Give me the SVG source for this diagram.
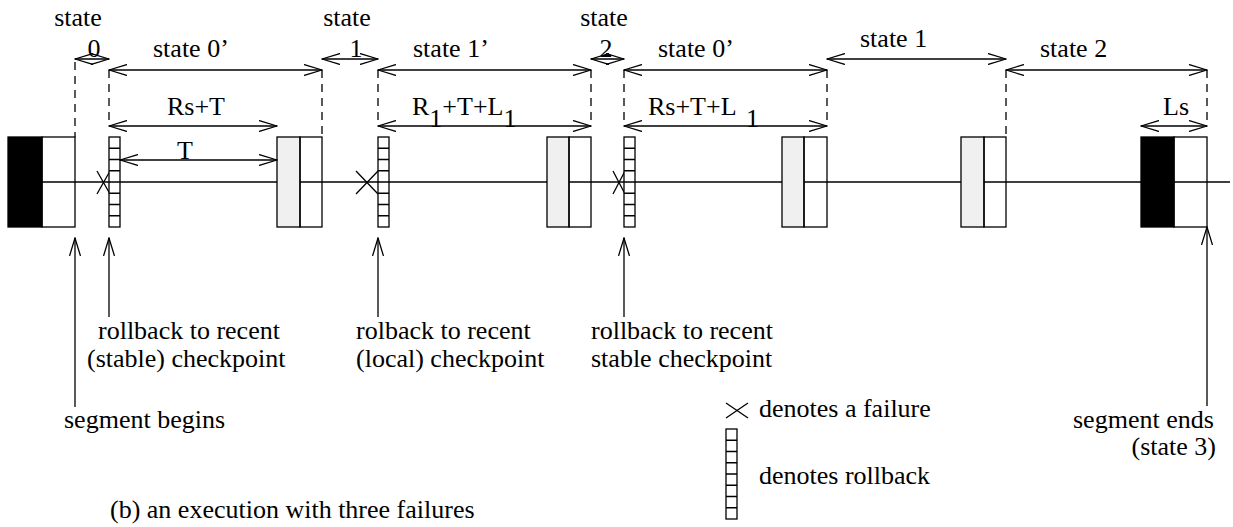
<svg xmlns="http://www.w3.org/2000/svg" xmlns:xlink="http://www.w3.org/1999/xlink" width="1233" height="527" viewBox="0 0 1233 527">
<style>
.ln{stroke:#000;stroke-width:1.3;fill:none}
.ar{stroke:#000;stroke-width:1.3;fill:none;marker-start:url(#ah);marker-end:url(#ah)}
.up{stroke:#000;stroke-width:1.3;fill:none;marker-end:url(#ah)}
.dash{stroke:#000;stroke-width:1.3;stroke-dasharray:8 6;fill:none}
.t{font-family:'Liberation Serif','DejaVu Serif','Times New Roman',serif;font-size:26px;fill:#000}
.wh{fill:none;stroke:#000;stroke-width:1.3}
.rbw{fill:#fff;stroke:#000;stroke-width:1.3}
.gray{fill:#f0f0f0;stroke:#000;stroke-width:1.3}
.blk{fill:#000;stroke:#000;stroke-width:1.3}
</style>
<defs>
<marker id="ah" viewBox="0 0 19 12" refX="18" refY="6" markerWidth="19" markerHeight="12" markerUnits="userSpaceOnUse" orient="auto-start-reverse">
<path d="M0,0.5 L18,6 L0,11.5" fill="none" stroke="#000" stroke-width="1.3"/>
</marker>
<g id="rbsym">
<rect x="0" y="0" width="11" height="90" class="rbw"/>
<path class="ln" d="M0,11.25h11M0,22.5h11M0,33.75h11M0,45h11M0,56.25h11M0,67.5h11M0,78.75h11"/>
</g>
</defs>

<g id="timeline">
<line class="ln" x1="8" y1="182" x2="1230" y2="182"/>
</g>

<g id="segment-start">
<rect class="blk" x="8" y="137" width="34" height="90"/>
<rect class="wh" x="42" y="137" width="33" height="90"/>
</g>

<g id="rollback-1">
<path class="ln" d="M97,171 L110,194 M97,194 L110,171"/>
<use xlink:href="#rbsym" x="109" y="137"/>
</g>

<g id="checkpoint-1">
<rect class="gray" x="277" y="137" width="23" height="90"/>
<rect class="wh" x="300" y="137" width="22" height="90"/>
</g>

<g id="rollback-2">
<path class="ln" d="M356,171 L378,194 M356,194 L378,171"/>
<use xlink:href="#rbsym" x="378" y="137"/>
</g>

<g id="checkpoint-2">
<rect class="gray" x="547" y="137" width="22" height="90"/>
<rect class="wh" x="569" y="137" width="22" height="90"/>
</g>

<g id="rollback-3">
<path class="ln" d="M613,171 L625,194 M613,194 L625,171"/>
<use xlink:href="#rbsym" x="624" y="137"/>
</g>

<g id="checkpoint-3">
<rect class="gray" x="782" y="137" width="22" height="90"/>
<rect class="wh" x="804" y="137" width="23" height="90"/>
</g>

<g id="checkpoint-4">
<rect class="gray" x="961" y="137" width="23" height="90"/>
<rect class="wh" x="984" y="137" width="22" height="90"/>
</g>

<g id="segment-end">
<rect class="blk" x="1141" y="137" width="33" height="90"/>
<rect class="wh" x="1174" y="137" width="33" height="90"/>
</g>

<g id="connectors">
<path class="dash" d="M75,62 V137 M109,70 V126 M322,70 V137 M378,70 V126 M591,70 V126 M624,70 V126 M827,70 V126 M1006,70 V137 M1207,70 V126"/>
<line class="ar" x1="75" y1="59" x2="109" y2="59"/>
<line class="ar" x1="109" y1="70" x2="322" y2="70"/>
<line class="ar" x1="322" y1="59" x2="378" y2="59"/>
<line class="ar" x1="378" y1="70" x2="591" y2="70"/>
<line class="ar" x1="591" y1="59" x2="624" y2="59"/>
<line class="ar" x1="624" y1="70" x2="827" y2="70"/>
<line class="ar" x1="827" y1="59" x2="1006" y2="59"/>
<line class="ar" x1="1006" y1="70" x2="1207" y2="70"/>
<line class="ar" x1="109" y1="126" x2="277" y2="126"/>
<line class="ar" x1="120" y1="160" x2="277" y2="160"/>
<line class="ar" x1="378" y1="126" x2="591" y2="126"/>
<line class="ar" x1="624" y1="126" x2="827" y2="126"/>
<line class="ar" x1="1141" y1="126" x2="1207" y2="126"/>
<line class="up" x1="75" y1="407" x2="75" y2="238"/>
<line class="up" x1="109" y1="317" x2="109" y2="238"/>
<line class="up" x1="378" y1="317" x2="378" y2="238"/>
<line class="up" x1="624" y1="317" x2="624" y2="238"/>
<line class="up" x1="1207" y1="406" x2="1207" y2="227"/>
</g>

<g id="labels" font-family="'Liberation Serif', 'Times New Roman', serif">
<text class="t" x="78" y="26" text-anchor="middle">state</text>
<text class="t" x="94" y="57" text-anchor="middle">0</text>
<text class="t" x="153" y="57">state 0’</text>
<text class="t" x="167" y="115">Rs+T</text>
<text class="t" x="185" y="159" text-anchor="middle">T</text>
<text class="t" x="347" y="26" text-anchor="middle">state</text>
<text class="t" x="356" y="57" text-anchor="middle">1</text>
<text class="t" x="413" y="57">state 1’</text>
<text class="t" x="412" y="115">R<tspan dy="12">1</tspan><tspan dy="-12">+T+L</tspan><tspan dy="12">1</tspan></text>
<text class="t" x="604" y="26" text-anchor="middle">state</text>
<text class="t" x="606" y="57" text-anchor="middle">2</text>
<text class="t" x="658" y="57">state 0’</text>
<text class="t" x="648" y="115">Rs+T+L<tspan x="746" dy="12">1</tspan></text>
<text class="t" x="860" y="47">state 1</text>
<text class="t" x="1040" y="57">state 2</text>
<text class="t" x="1163" y="115">Ls</text>
<text class="t" x="98" y="339">rollback to recent</text>
<text class="t" x="87" y="367">(stable) checkpoint</text>
<text class="t" x="356" y="339">rolback to recent</text>
<text class="t" x="356" y="367">(local) checkpoint</text>
<text class="t" x="591" y="339">rollback to recent</text>
<text class="t" x="591" y="367">stable checkpoint</text>
<text class="t" x="64" y="428">segment begins</text>
<text class="t" x="1073" y="428">segment ends</text>
<text class="t" x="1216" y="455" text-anchor="end">(state 3)</text>
<text class="t" x="110" y="518">(b) an execution with three failures</text>
</g>

<g id="legend">
<path class="ln" d="M726,403 L748,418 M726,418 L748,403"/>
<text class="t" x="759" y="417">denotes a failure</text>
<use xlink:href="#rbsym" x="726" y="429"/>
<text class="t" x="759" y="484">denotes rollback</text>
</g>
</svg>
